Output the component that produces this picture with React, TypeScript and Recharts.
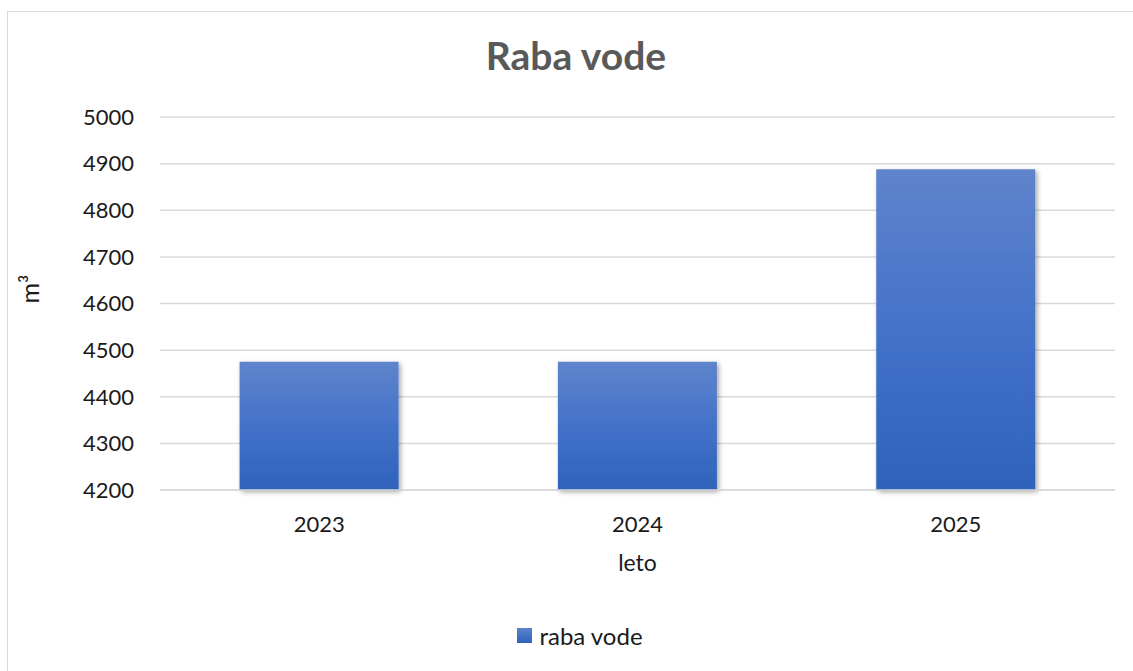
import { BarChart, Bar, XAxis, YAxis, CartesianGrid } from 'recharts';

const years = ['2023', '2024', '2025'];
const usage = [4475, 4475, 4888];
const yTicks = [4200, 4300, 4400, 4500, 4600, 4700, 4800, 4900, 5000];

const data = years.map((year, i) => ({ year, value: usage[i] }));

const font = 'Lato, "Open Sans", sans-serif';
const textColor = '#1a1a1a';

export default function App() {
  return (
    <div style={{ position: 'fixed', left: 0, top: 0, width: 1133, height: 671, overflow: 'hidden', background: '#fff' }}>
      <div style={{ position: 'absolute', left: 7, top: 11, width: 1160, height: 700, border: '1.5px solid #d9d9d9' }} />
      <div style={{ position: 'absolute', left: 0, top: 32, width: 1152, textAlign: 'center', fontFamily: font, fontWeight: 700, fontSize: 39, color: '#595959' }}>
        Raba vode
      </div>
      <div style={{ position: 'absolute', left: 0, top: 0 }}>
        <BarChart width={1133} height={671} data={data} margin={{ top: 117, right: 18, left: 0, bottom: 0 }} barCategoryGap="25%">
          <defs>
            <linearGradient id="barGrad" x1="0" y1="0" x2="0" y2="1">
              <stop offset="0%" stopColor="#5f84cc" />
              <stop offset="50%" stopColor="#4472c9" />
              <stop offset="100%" stopColor="#2f62bb" />
            </linearGradient>
            <filter id="barShadow" x="-10%" y="-10%" width="130%" height="130%">
              <feDropShadow dx="2" dy="2" stdDeviation="2.5" floodColor="#000" floodOpacity="0.35" />
            </filter>
          </defs>
          <CartesianGrid vertical={false} stroke="#d9d9d9" strokeWidth={1.5} />
          <XAxis
            dataKey="year"
            height={181}
            axisLine={{ stroke: '#d9d9d9', strokeWidth: 1.5 }}
            tickLine={false}
            tickSize={0}
            tickMargin={26}
            tick={{ fontSize: 22, fill: textColor, fontFamily: font }}
            label={{ value: 'leto', position: 'insideTop', offset: 65, fontSize: 23, fill: textColor, fontFamily: font }}
          />
          <YAxis
            width={160}
            domain={[4200, 5000]}
            ticks={yTicks}
            axisLine={false}
            tickLine={false}
            tickSize={0}
            tickMargin={26}
            tick={{ fontSize: 22, fill: textColor, fontFamily: font }}
            label={{ value: 'm³', angle: -90, position: 'insideLeft', offset: 30, fontSize: 25, fill: textColor, fontFamily: font }}
          />
          <Bar dataKey="value" fill="url(#barGrad)" filter="url(#barShadow)" isAnimationActive={false} />
        </BarChart>
      </div>
      <div style={{ position: 'absolute', left: 0, top: 621, width: 1160, display: 'flex', justifyContent: 'center', alignItems: 'center', fontFamily: font, fontSize: 24, color: textColor }}>
        <span style={{ display: 'inline-block', width: 15, height: 15, background: 'linear-gradient(#5b83cc, #2f62bb)', marginRight: 7 }} />
        <span>raba vode</span>
      </div>
    </div>
  );
}
